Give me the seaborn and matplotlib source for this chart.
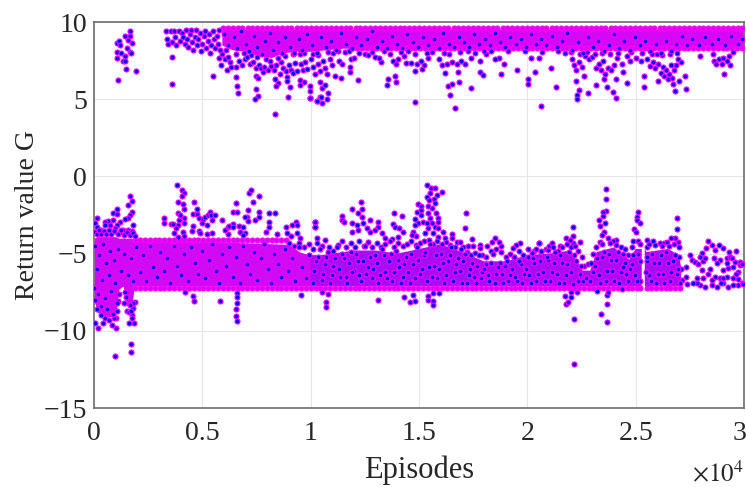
"""
Return value per training episode, scatter of two reward clusters
"""
import pandas as pd
import matplotlib.pyplot as plt
from matplotlib.transforms import ScaledTranslation
import seaborn as sns

# tick labels
x_ticks = [0, 5000, 10000, 15000, 20000, 25000, 30000]
x_tick_labels = ["0", "0.5", "1", "1.5", "2", "2.5", "3"]
y_ticks = [-15, -10, -5, 0, 5, 10]
y_tick_labels = ["\u221215", "\u221210", "\u22125", "0", "5", "10"]

NAN = float("nan")

# envelope of the parts of each cluster where the markers overlap completely
upper_band_x = [5900, 6400, 7000, 7600, 8200, 8700, 9300, 10000, 10700, 11500, 12500, 14000, 16000, 18000, 20000, 22000, 24000, 26000, 27500, 30000]
upper_band_low = [8.5, 8.2, 8.1, 7.8, 7.7, 8.0, 8.1, 8.1, 8.2, 8.3, 8.3, 8.3, 8.3, 8.4, 8.4, 8.4, 8.3, 8.2, 8.4, 8.4]
upper_band_high = [9.55, 9.55, 9.55, 9.55, 9.55, 9.55, 9.55, 9.55, 9.55, 9.55, 9.55, 9.55, 9.55, 9.55, 9.55, 9.55, 9.55, 9.55, 9.55, 9.55]

lower_band_x = [0, 150, 500, 1000, 1150, 1350, 1450, 1750, 1850, 5000, 9000, 9500, 10000, 10500, 11000, 12000, 13000, 14000, 15000, 16000, 17000, 18000, 19000, 20000, 21000, 22000, 22550, 22900, 23200, 24000, 24700, 25000, 25280, 25350, 25420, 25500, 26500, 27000, 27100]
lower_band_low = [-8.0, -8.8, -9.1, -9.1, -7.3, -7.1, -8.3, -8.6, -7.1, -7.1, -7.1, -7.1, -7.1, -7.1, -7.1, -7.1, -7.1, -7.1, -7.1, -7.1, -7.1, -7.1, -7.1, -7.1, -7.1, -7.3, -7.1, -7.1, -7.1, -7.1, -7.1, -7.1, -7.1, NAN, -7.1, -7.1, -7.1, -7.1, -7.1]
lower_band_high = [-4.0, -3.9, -3.9, -3.9, -4.0, -4.0, -4.0, -4.0, -4.2, -4.2, -4.4, -4.9, -5.1, -5.1, -5.0, -4.8, -4.8, -5.0, -4.7, -4.4, -4.9, -5.5, -5.5, -5.1, -5.0, -4.8, -6.1, -6.1, -4.9, -4.6, -5.4, -4.7, -4.7, NAN, -4.7, -4.9, -4.7, -5.1, -5.9]

# markers sit on the saturated edges of the clusters
upper_top_level = 9.58
upper_floor_level = 8.33
lower_ceiling_level = -4.12
lower_floor_level = -7.22
upper_top_x = [
    5950, 6180, 6400, 6640, 6850, 7090, 7300, 7540, 7760, 7990, 8210, 8440, 8660, 8900, 9110, 9350, 9560, 9800, 10020, 10260,
    10470, 10710, 10930, 11160, 11380, 11620, 11830, 12070, 12290, 12520, 12740, 12980, 13190, 13430, 13640, 13880, 14100, 14330, 14550, 14790,
    15000, 15240, 15450, 15690, 15910, 16140, 16360, 16600, 16810, 17050, 17260, 17500, 17720, 17950, 18170, 18410, 18620, 18860, 19070, 19310,
    19530, 19760, 19980, 20220, 20430, 20670, 20880, 21120, 21340, 21570, 21790, 22030, 22240, 22480, 22690, 22930, 23150, 23380, 23600, 23840,
    24050, 24290, 24500, 24740, 24960, 25190, 25410, 25650, 25860, 26100, 26310, 26550, 26770, 27000, 27220, 27460, 27670, 27910, 28120, 28360,
    28580, 28810, 29030, 29270, 29480, 29720, 29930,
]
upper_floor_x = [
    11900, 12130, 12360, 12580, 12810, 13030, 13260, 13480, 13710, 13930, 14160, 14380, 14610, 14830, 15060, 15280, 15510, 15730, 15960, 16180,
    16410, 16630, 16860, 17080, 17310, 17530, 17760, 17980, 18210, 18430, 18660, 18880, 19110, 19330, 19560, 19780, 20010, 20230, 20460, 20680,
    20910, 21130, 21360, 21580, 21810, 22030, 22260, 22480, 22710, 22930, 23160, 23380, 23610, 23830, 24060, 24280, 24510, 24730, 24960, 25180,
    25410, 25630, 25860, 26080, 26310, 26530, 26760, 26980, 27210, 27430, 27660, 27880, 28110, 28330, 28560, 28780, 29010, 29230, 29460, 29680,
    29910,
]
lower_ceiling_x = [
    1900, 2120, 2350, 2570, 2800, 3020, 3250, 3470, 3700, 3920, 4150, 4370, 4600, 4820, 5050, 5270, 5500, 5720, 5950, 6170,
    6400, 6620, 6850, 7070, 7300, 7520, 7750, 7970, 8200, 8420, 8650, 8870,
]
lower_floor_x = [
    1900, 2130, 2350, 2580, 2800, 3030, 3250, 3480, 3700, 3930, 4150, 4380, 4600, 4830, 5050, 5280, 5500, 5730, 5950, 6180,
    6400, 6630, 6850, 7080, 7300, 7530, 7750, 7980, 8200, 8430, 8650, 8880, 9100, 9330, 9550, 9780, 10000, 10230, 10450, 10680,
    10900, 11130, 11350, 11580, 11800, 12030, 12250, 12480, 12700, 12930, 13150, 13380, 13600, 13830, 14050, 14280, 14500, 14730, 14950, 15180,
    15400, 15630, 15850, 16080, 16300, 16530, 16750, 16980, 17200, 17430, 17650, 17880, 18100, 18330, 18550, 18780, 19000, 19230, 19450, 19680,
    19900, 20130, 20350, 20580, 20800, 21030, 21250, 21480, 21700, 21930, 22150, 22380, 22600, 22830, 23050, 23280, 23500, 23730, 23950, 24180,
    24400, 24630, 24850, 25080, 25220, 25500, 25700, 25930, 26150, 26380, 26600, 26830, 27050,
]

upper_outliers = [
    (1123, 6.24), (1461, 6.98), (1922, 6.83), (1046, 8.62), (1169, 8.79), (1200, 8.51), (1430, 9.09), (1661, 9.42),
    (1661, 9.09), (1584, 8.83), (1738, 8.62), (1507, 8.29), (1661, 8.08), (1046, 8.08), (1230, 8.01), (1046, 7.65),
    (1323, 7.47), (1446, 7.47), (1446, 7.80), (1692, 8.01), (3614, 5.98), (3614, 7.73), (5767, 7.69), (5860, 7.19),
    (5506, 6.52), (6121, 6.89), (6306, 7.10), (6537, 7.06), (6537, 6.46), (6583, 5.88), (6629, 5.38), (7459, 5.66),
    (7582, 5.23), (7428, 5.03), (8351, 4.02), (7459, 6.52), (7582, 6.39), (7459, 7.04), (7813, 6.78), (8351, 6.30),
    (8474, 6.03), (8397, 5.85), (9028, 5.79), (8951, 5.12), (8890, 6.46), (8890, 6.20), (9505, 5.92), (9505, 6.24),
    (9690, 6.13), (9966, 5.85), (9966, 5.53), (9966, 5.05), (10274, 4.90), (10428, 5.16), (10277, 4.88), (10507, 4.73),
    (10769, 4.99), (10477, 5.16), (10815, 5.38), (9969, 5.05), (10507, 5.74), (10661, 5.92), (10430, 6.13), (11122, 6.50),
    (11384, 6.35), (11830, 7.10), (11830, 6.78), (12168, 6.24), (13245, 7.43), (12507, 7.90), (13553, 6.29), (13522, 5.92),
    (13952, 6.13), (13891, 6.52), (14829, 4.80), (14829, 6.80), (15120, 6.95), (16429, 5.27), (16659, 4.43), (16321, 5.85),
    (16506, 5.98), (16859, 6.13), (17413, 5.72), (16198, 6.67), (16782, 6.78), (17813, 6.74), (17936, 6.57), (18767, 6.63),
    (19505, 6.89), (20012, 6.29), (20043, 6.00), (20366, 6.78), (20181, 7.67), (20520, 7.64), (20674, 8.03), (20612, 4.56),
    (18905, 7.27), (18674, 7.69), (21307, 5.81), (21091, 7.00), (22245, 6.18), (22399, 5.59), (22306, 5.27), (22306, 4.99),
    (22799, 5.42), (22614, 6.50), (23168, 5.92), (23675, 5.77), (23937, 5.49), (24106, 5.08), (23552, 6.29), (24090, 6.31),
    (24583, 6.03), (24429, 6.76), (25398, 6.48), (25382, 5.81), (26044, 6.20), (26705, 5.98), (26797, 5.55), (27305, 5.64),
    (27289, 6.52), (26997, 6.20), (29073, 6.61), (27951, 7.82),
    # thinner stretch before the band starts
    (3300, 9.4), (3380, 8.9), (3420, 8.6), (3540, 9.4), (3600, 8.7), (3680, 9.4), (3750, 9.0), (3800, 8.5),
    (3900, 9.4), (3960, 8.8), (4050, 9.3), (4110, 9.0), (4180, 8.6), (4240, 9.5), (4300, 8.9), (4360, 8.4),
    (4420, 9.2), (4480, 9.5), (4540, 8.7), (4590, 8.2), (4650, 9.0), (4710, 9.5), (4760, 8.5), (4820, 8.9),
    (4880, 9.3), (4930, 8.1), (5000, 8.6), (5060, 9.1), (5120, 9.4), (5180, 8.3), (5240, 8.8), (5300, 9.2),
    (5360, 8.0), (5420, 8.5), (5480, 9.4), (5540, 8.9), (5600, 8.3), (5660, 9.1), (5720, 8.6), (5780, 9.5),
    (5820, 8.2), (5900, 7.95), (6050, 7.6), (6180, 7.75), (6260, 7.4),
    # fringe under the band
    (6700, 7.5), (6820, 7.2), (6950, 7.6), (7080, 7.75), (7200, 7.3), (7350, 7.4), (7620, 7.2), (7700, 7.0),
    (7850, 7.1), (8050, 6.9), (8180, 7.15), (8300, 6.9), (8420, 7.2), (8570, 6.6), (8640, 7.4), (8720, 7.0),
    (8840, 6.8), (9000, 7.2), (9100, 6.9), (9190, 6.7), (9270, 7.35), (9390, 6.85), (9560, 7.3), (9630, 6.9),
    (9760, 7.4), (9850, 6.95), (10030, 7.6), (10130, 7.1), (10220, 6.6), (10330, 7.3), (10420, 6.85), (10560, 7.45),
    (10650, 7.0), (10740, 6.6), (10880, 7.6), (10980, 7.2), (11300, 7.5), (11430, 7.3), (11850, 7.6), (12000, 7.7),
    (12650, 7.85), (12950, 7.75), (13150, 7.65), (13800, 7.5), (13950, 7.25), (14050, 7.6), (14300, 7.8), (14420, 7.35),
    (14650, 7.35), (14900, 7.3), (15100, 7.5), (15250, 7.2), (15400, 7.7), (15900, 7.6), (16050, 7.2), (16300, 7.3),
    (16500, 7.4), (16750, 7.3), (16950, 7.5), (17100, 7.3), (17400, 7.65), (17800, 7.45), (18100, 7.9), (18500, 7.6),
    (21750, 8.0), (22050, 7.6), (22150, 7.2), (22250, 6.9), (22380, 7.4), (22500, 7.1), (22650, 7.8), (22850, 7.6),
    (23000, 7.75), (23150, 7.0), (23300, 7.3), (23420, 6.9), (23500, 7.5), (23600, 6.6), (23720, 7.0), (23850, 6.9),
    (23980, 7.2), (24150, 7.7), (24350, 7.3), (24600, 7.8), (24750, 7.5), (25000, 7.7), (25250, 7.45), (25500, 7.6),
    (25650, 7.15), (25800, 7.4), (25900, 7.0), (26050, 7.25), (26150, 6.7), (26250, 7.1), (26300, 6.5), (26400, 6.9),
    (26480, 6.3), (26560, 6.6), (26620, 7.2), (26680, 6.4), (26750, 6.9), (26850, 7.2), (26950, 7.6), (27080, 7.4),
    (28550, 7.95), (28600, 7.5), (28700, 7.3), (28850, 7.6), (28990, 7.3), (29050, 7.65), (29230, 7.45), (29300, 7.8),
    (29340, 7.2), (29480, 8.05),
    # ragged lower edge of the band
    (6100, 8.2), (6550, 7.95), (6900, 8.0), (7250, 7.85), (7500, 7.75), (7950, 7.6), (8100, 7.5), (8500, 7.65),
    (8800, 7.8), (9200, 7.95), (9500, 7.9), (9700, 8.0), (10100, 7.95), (10350, 7.85), (10800, 8.05), (11050, 8.0),
    (11250, 8.1), (11600, 8.05), (11750, 8.1), (12250, 8.0), (12850, 8.05), (13400, 8.1), (13650, 7.95), (14150, 8.05),
    (14500, 8.1), (14800, 7.95), (15350, 8.0), (15600, 8.05), (16150, 8.0), (16400, 7.95), (16900, 8.05), (17250, 8.1),
    (17600, 8.0), (18000, 8.1), (18300, 8.15), (19100, 8.1), (19900, 8.15), (21400, 8.1), (22000, 8.05), (22420, 7.95),
    (22750, 8.05), (23100, 7.95), (23450, 8.0), (23800, 7.9), (24200, 8.0), (24800, 8.05), (25300, 8.0), (25750, 7.9),
    (26000, 7.95), (26200, 7.85), (26600, 7.9), (26900, 8.0),
]

upper_band_points = [
    (6000, 9.2), (6200, 8.5), (6450, 9.0), (6620, 8.3), (6800, 9.4), (7010, 8.6), (7150, 8.1), (7390, 9.1),
    (7540, 8.4), (7760, 7.9), (7900, 8.8), (8120, 9.3), (8260, 8.2), (8500, 8.7), (8680, 8.0), (8810, 9.0),
    (9050, 8.4), (9210, 8.0), (9440, 8.9), (9600, 8.2), (9820, 9.2), (10060, 8.5), (10280, 8.0), (10470, 9.0),
    (10700, 8.4), (10950, 8.8), (11150, 8.2), (11400, 9.3), (11620, 8.6), (11900, 8.3), (12100, 9.0), (12340, 8.5),
    (12600, 8.9), (12830, 9.4), (13060, 8.4), (13300, 8.8), (13510, 8.3), (13740, 9.1), (14000, 8.6), (14220, 8.3),
    (14460, 9.2), (14710, 8.7), (14950, 8.4), (15190, 9.0), (15420, 8.5), (15670, 8.9), (15900, 8.3), (16130, 9.3),
    (16370, 8.6), (16600, 8.4), (16840, 9.0), (17090, 8.7), (17310, 8.4), (17560, 9.2), (17790, 8.6), (18030, 8.9),
    (18260, 8.5), (18510, 9.3), (18740, 8.7), (18990, 8.4), (19220, 9.0), (19460, 8.6), (19700, 8.9), (19930, 8.4),
    (20170, 9.2), (20410, 8.6), (20650, 8.9), (20880, 8.5), (21120, 9.1), (21360, 8.4), (21600, 8.8), (21840, 9.3),
    (22080, 8.2), (22320, 8.7), (22560, 8.0), (22800, 9.0), (23040, 8.4), (23280, 8.8), (23520, 8.1), (23760, 8.5),
    (24000, 9.2), (24240, 8.3), (24480, 8.8), (24720, 8.2), (24960, 9.0), (25200, 8.5), (25440, 8.8), (25680, 8.1),
    (25920, 8.6), (26160, 8.0), (26400, 8.8), (26640, 8.1), (26880, 8.6), (27120, 9.1), (27360, 8.5), (27600, 8.9),
    (27900, 8.5), (28200, 9.0), (28500, 8.6), (28800, 8.9), (29100, 8.5), (29400, 9.1), (29700, 8.6), (29920, 8.9),
]

lower_outliers = [
    (3845, -0.56), (4045, -0.88), (4153, -1.05), (4045, -1.25), (3891, -1.68), (4091, -1.81), (4153, -2.11), (3860, -2.39),
    (3968, -2.50), (4153, -2.67), (3922, -2.82), (4153, -3.04), (3245, -2.72), (3230, -3.04), (3553, -3.08), (3660, -3.08),
    (3891, -3.15), (3784, -3.36), (3691, -3.64), (3860, -3.90), (4091, -3.62), (4153, -3.84), (4614, -1.68), (4768, -2.09),
    (4583, -2.46), (4768, -2.46), (4860, -2.72), (5014, -2.76), (5122, -2.61), (5245, -2.50), (5352, -2.28), (5398, -2.50),
    (5583, -2.50), (5429, -2.82), (5198, -3.15), (4999, -3.04), (4553, -3.21), (4506, -3.51), (4860, -3.51), (4891, -3.69),
    (5198, -3.75), (5429, -3.64), (5906, -2.85), (6060, -3.49), (6198, -3.30), (6198, -3.73), (6398, -3.10), (6229, -3.19),
    (6429, -3.30), (6552, -1.72), (6429, -2.31), (6613, -2.33), (6690, -3.19), (6890, -3.26), (6736, -3.58), (6967, -3.64),
    (6890, -3.80), (7090, -2.18), (7044, -2.61), (6967, -2.61), (7121, -2.87), (7429, -2.82), (7613, -2.61), (7613, -2.28),
    (7352, -1.68), (7628, -1.27), (7167, -1.10), (7259, -0.88), (8074, -2.39), (8367, -2.35), (8059, -2.97), (8090, -3.26),
    (7936, -3.62), (8428, -3.73), (8843, -3.30), (9151, -3.15), (9305, -2.97), (9351, -3.15), (8890, -3.69), (9074, -3.86),
    (9351, -3.69), (9505, -4.01), (10197, -2.97), (10197, -3.26), (10305, -4.01),
    (1661, -1.27), (1738, -1.59), (1584, -1.87), (1738, -2.28), (1661, -2.50), (1553, -2.67), (1430, -2.78), (1046, -2.13),
    (861, -2.39), (1046, -2.43), (861, -2.82), (661, -2.87), (507, -2.93), (154, -2.67), (46, -3.04), (123, -3.26),
    (507, -3.15), (738, -3.15), (1200, -2.97), (1046, -3.15), (1354, -3.47), (1784, -3.15), (969, -3.36), (1584, -3.50),
    (1738, -3.54), (300, -3.47), (620, -3.60), (1180, -3.62),
    (4184, -7.46), (4583, -7.75), (4629, -8.05), (5814, -8.07), (6613, -7.53), (6583, -7.79), (6613, -8.22), (6537, -8.61),
    (6552, -9.02), (6583, -9.34), (9567, -7.66), (1738, -8.98), (1630, -9.47), (1846, -9.47), (1738, -9.19), (1892, -8.16),
    (1784, -8.55), (1430, -7.46), (1000, -9.84), (815, -9.62), (1015, -9.19), (430, -9.47), (46, -9.47), (200, -9.84),
    (969, -11.63), (1708, -11.37), (1708, -10.85),
    (300, -9.0), (500, -9.2), (700, -9.3), (900, -9.2), (1050, -8.7), (1110, -8.1), (1170, -7.6), (1400, -8.2),
    (1500, -8.7), (1600, -8.8), (1700, -8.7), (1800, -8.2), (120, -8.6), (60, -8.0), (20, -7.2),
    (10200, -2.97), (10200, -3.30), (10707, -8.16), (10707, -8.48), (10784, -7.64), (10523, -7.51), (13122, -8.00), (14583, -8.11),
    (14814, -8.07), (14322, -7.79), (14737, -7.66), (15429, -7.75), (15429, -8.00), (15629, -7.53), (15629, -8.05), (15629, -8.33),
    (15921, -7.57), (12322, -1.68), (11922, -2.11), (12353, -2.11), (12199, -2.39), (12353, -2.61), (11461, -2.54), (11461, -2.82),
    (11553, -2.93), (11892, -3.04), (12737, -2.82), (13122, -2.97), (13122, -3.26), (12122, -3.15), (12430, -3.04), (11892, -3.58),
    (12199, -3.47), (12584, -3.36), (12737, -3.58), (12968, -3.47), (13276, -3.69), (13845, -2.35), (14199, -2.56), (13814, -3.10),
    (13891, -3.26), (14091, -3.32), (14245, -3.58), (14045, -3.90), (13430, -4.01), (13737, -4.07), (14737, -3.58), (14660, -3.80),
    (14860, -3.84), (14968, -1.81), (15091, -1.92), (14891, -2.33), (15091, -2.18), (15091, -2.50), (14814, -2.76), (14968, -3.04),
    (15199, -2.93), (14829, -3.15),
    (15352, -0.56), (15537, -0.77), (15737, -0.73), (16060, -1.00), (15506, -1.10), (15814, -1.20), (15352, -1.36), (15475, -1.53),
    (15691, -1.48), (15737, -1.74), (15429, -1.92), (15583, -2.07), (15783, -2.39), (15429, -2.39), (15891, -2.67), (15506, -2.72),
    (15891, -2.93), (15352, -3.04), (15583, -3.04), (15737, -3.26), (15429, -3.36), (15891, -3.36), (16121, -3.58), (15275, -3.69),
    (15660, -3.69), (15891, -3.90), (16198, -4.01), (16506, -3.75), (16506, -4.01),
    (17151, -2.35), (17136, -3.36), (17428, -4.05), (18505, -4.01), (18382, -4.27), (18690, -4.23), (18782, -4.51), (18120, -4.51),
    (20550, -4.29), (19660, -4.33), (19475, -4.44), (19320, -4.66), (16737, -4.23), (16890, -4.27), (17045, -4.55), (17275, -4.51),
    (17505, -4.51), (17813, -4.44), (17813, -4.66), (20010, -4.70), (20320, -4.80), (20860, -4.70), (21000, -4.50),
    (23629, -0.84), (23629, -1.46), (23629, -2.24), (23506, -2.28), (23506, -2.54), (23321, -2.82), (23583, -2.99), (23352, -3.19),
    (23552, -3.58), (23429, -3.80), (25090, -2.28), (25044, -2.61), (25044, -2.82), (25198, -3.04), (24936, -3.41), (25013, -3.58),
    (24890, -4.16), (25121, -4.16), (26889, -2.69), (26889, -3.43), (26813, -3.97), (26629, -4.01), (26967, -4.23), (22122, -3.26),
    (22122, -3.86), (21768, -3.97), (22429, -4.23), (20553, -4.29), (21122, -4.29), (21507, -4.49), (22122, -4.33), (21970, -4.10),
    (24090, -4.10), (23340, -4.25), (23710, -4.00), (23950, -4.20), (24300, -4.60), (24520, -4.70), (25500, -4.10), (25780, -4.20),
    (26100, -4.30), (26300, -4.30), (26450, -4.25),
    (22153, -9.26), (22153, -12.17), (23398, -8.91), (23691, -9.45), (23691, -8.26), (23660, -7.68), (23737, -7.51), (21768, -8.29),
    (21891, -8.11), (21737, -7.75), (22014, -7.83), (22000, -7.51), (23200, -7.45), (24350, -7.30), (22300, -7.50),
    # sparse end of the lower cluster
    (27000, -5.2), (27100, -6.0), (27150, -6.7), (27300, -5.9), (27320, -6.5), (27350, -7.0), (27500, -5.1), (27600, -5.4),
    (28351, -4.16), (28504, -4.44), (28843, -4.44), (29012, -4.66), (28243, -4.62), (28658, -4.77), (29320, -4.87), (29612, -4.81),
    (28043, -4.98), (27966, -5.24), (27735, -5.57), (27889, -5.70), (28089, -5.46), (28628, -5.31), (28889, -5.41), (29197, -5.31),
    (29351, -5.20), (29581, -5.52), (29812, -5.52), (28735, -5.63), (28428, -6.02), (28043, -6.06), (29043, -6.06), (29274, -5.96),
    (29504, -5.89), (29735, -6.17), (29889, -6.93), (29735, -7.03), (29504, -7.03), (29274, -7.14), (29043, -6.93), (28735, -7.14),
    (28504, -7.03), (28197, -7.14), (27966, -7.03), (27812, -6.93), (28089, -6.60), (27812, -6.60), (28658, -6.49), (28504, -6.71),
    (28889, -6.60), (29504, -6.60), (29197, -6.49), (29735, -6.66), (29043, -6.60), (28351, -6.32), (29812, -5.74), (29197, -5.63),
    (29950, -7.00), (29900, -5.70), (28200, -5.30), (29450, -5.30), (28950, -6.90), (27650, -6.90), (29650, -6.30),
    # crown above the band on the left
    (40, -3.6), (130, -3.7), (230, -3.5), (340, -3.75), (440, -3.55), (540, -3.7), (700, -3.5), (800, -3.75),
    (900, -3.55), (1100, -3.7), (1250, -3.5), (1400, -3.8), (1520, -3.6), (1650, -3.8), (1800, -3.65), (1900, -3.85),
    # top of the band from 1e4 on, not saturated any more
    (9000, -4.3), (9250, -4.5), (9450, -4.3), (9700, -4.6), (9900, -4.35), (10100, -4.7), (10300, -4.3), (10500, -4.5),
    (10650, -4.15), (10850, -4.6), (11050, -4.8), (11250, -4.45), (11450, -4.2), (11650, -4.55), (11850, -4.3), (12050, -4.6),
    (12250, -4.2), (12450, -4.5), (12650, -4.25), (12850, -4.55), (13050, -4.3), (13250, -4.6), (13450, -4.4), (13650, -4.2),
    (13850, -4.55), (14050, -4.3), (14250, -4.5), (14450, -4.35), (14650, -4.2), (14850, -4.45), (15050, -4.3), (15250, -4.2),
    (15450, -4.1), (15650, -4.35), (15850, -4.2), (16050, -4.4), (16250, -4.25), (16450, -4.45), (16650, -4.6), (16950, -4.7),
    (17200, -4.9), (17400, -5.1), (17600, -4.95), (17900, -5.1), (18100, -5.2), (18300, -4.8), (18550, -4.7), (18800, -4.9),
    (19000, -5.2), (19200, -5.05), (19400, -5.2), (19600, -4.85), (19800, -5.1), (20200, -4.95), (20400, -4.7), (20650, -4.9),
    (20950, -4.75), (21200, -4.6), (21400, -4.8), (21600, -4.55), (21850, -4.4), (22000, -4.6), (22200, -4.5), (22350, -4.8),
    (22500, -5.2), (22620, -5.8), (22800, -5.7), (22950, -5.6), (23050, -5.0), (23150, -4.6), (23450, -4.4), (23800, -4.3),
    (24100, -4.45), (24400, -5.0), (24650, -5.1), (24850, -4.6), (25220, -4.4), (25500, -4.6), (25620, -4.4), (25900, -4.45),
    (26200, -4.5), (26550, -4.5), (26750, -4.4), (27000, -4.6),
]

lower_band_points = [
    (60, -4.5), (120, -6.0), (180, -7.6), (240, -5.1), (310, -8.4), (360, -6.7), (430, -4.4), (490, -7.9),
    (550, -5.6), (610, -8.6), (680, -6.4), (730, -4.8), (800, -7.4), (860, -8.9), (930, -5.4), (990, -6.9),
    (1060, -8.2), (1130, -4.7), (1250, -6.1), (1390, -5.0), (1480, -7.8), (1560, -6.4), (1640, -8.3), (1720, -5.3),
    (1800, -6.8), (1950, -4.6), (2100, -6.2), (2260, -5.1), (2420, -6.8), (2580, -4.5), (2730, -5.9), (2900, -6.5),
    (3050, -4.9), (3210, -6.1), (3370, -5.3), (3530, -6.9), (3690, -4.5), (3850, -5.8), (4010, -6.4), (4170, -5.0),
    (4330, -6.8), (4490, -4.6), (4650, -5.6), (4810, -6.3), (4970, -4.8), (5130, -6.6), (5290, -5.4), (5450, -4.4),
    (5610, -6.1), (5770, -6.9), (5930, -5.0), (6090, -5.8), (6250, -4.6), (6410, -6.5), (6570, -5.2), (6730, -6.9),
    (6890, -4.5), (7050, -5.7), (7210, -6.3), (7370, -4.9), (7530, -6.7), (7690, -5.3), (7850, -4.4), (8010, -6.0),
    (8170, -6.9), (8330, -5.0), (8490, -5.7), (8650, -6.5), (8810, -4.7), (8970, -6.1), (9130, -5.3), (9290, -6.8),
    (9450, -4.6), (9610, -5.9), (9770, -6.6), (9930, -5.1), (10090, -6.9), (10250, -5.5), (10410, -4.7), (10570, -6.3),
    (10730, -5.2), (10890, -6.9), (11050, -5.8), (11210, -4.6), (11370, -6.5), (11530, -5.3), (11690, -6.9), (11850, -4.9),
    (12010, -6.1), (12170, -5.5), (12330, -6.8), (12490, -4.5), (12650, -5.9), (12810, -6.6), (12970, -5.1), (13130, -6.9),
    (13290, -4.7), (13450, -6.2), (13610, -5.5), (13770, -6.8), (13930, -4.8), (14090, -5.9), (14250, -6.5), (14410, -5.2),
    (14570, -6.9), (14730, -5.7), (14890, -4.6), (15050, -6.3), (15210, -5.1), (15370, -6.8), (15530, -4.4), (15690, -5.8),
    (15850, -6.6), (16010, -5.0), (16170, -6.9), (16330, -5.5), (16490, -4.6), (16650, -6.2), (16810, -5.3), (16970, -6.9),
    (17130, -5.0), (17290, -6.4), (17450, -5.6), (17610, -6.9), (17770, -5.1), (17930, -6.2), (18090, -5.7), (18250, -6.8),
    (18410, -5.0), (18570, -6.3), (18730, -5.6), (18890, -6.9), (19050, -5.5), (19210, -6.4), (19370, -5.2), (19530, -6.8),
    (19690, -5.7), (19850, -6.3), (20010, -5.2), (20170, -6.9), (20330, -5.6), (20490, -6.3), (20650, -4.8), (20810, -6.8),
    (20970, -5.4), (21130, -6.2), (21290, -4.9), (21450, -6.9), (21610, -5.6), (21770, -6.4), (21930, -4.9), (22090, -7.0),
    (22250, -5.5), (22410, -6.3), (22570, -6.8), (22730, -6.6), (22890, -6.8), (23050, -6.2), (23210, -5.3), (23370, -6.9),
    (23530, -4.9), (23690, -6.1), (23850, -5.4), (24010, -6.8), (24170, -4.9), (24330, -6.2), (24490, -5.6), (24650, -6.8),
    (24810, -5.7), (24970, -6.4), (25130, -5.0), (25210, -6.8), (25500, -5.5), (25610, -6.4), (25770, -5.0), (25930, -6.9),
    (26090, -5.6), (26250, -6.3), (26410, -4.9), (26570, -6.8), (26730, -5.5), (26890, -6.3), (27050, -6.9),
    # second pass over the thinner part, where single markers still show
    (10150, -6.1), (10330, -5.2), (10500, -6.7), (10660, -5.7), (10810, -4.9), (10970, -6.4), (11130, -5.3), (11290, -6.0),
    (11450, -5.0), (11610, -6.5), (11770, -5.6), (11930, -6.2), (12090, -5.0), (12250, -6.4), (12410, -5.5), (12570, -6.3),
    (12730, -5.2), (12890, -6.0), (13050, -5.6), (13210, -6.4), (13370, -5.1), (13530, -6.6), (13690, -5.0), (13850, -6.2),
    (14010, -5.4), (14170, -6.9), (14330, -5.7), (14490, -6.2), (14650, -5.0), (14810, -6.6), (14970, -5.4), (15130, -6.0),
    (15290, -4.9), (15450, -5.9), (15610, -6.5), (15770, -5.1), (15930, -6.0), (16090, -5.6), (16250, -6.4), (16410, -5.1),
    (16570, -6.8), (16730, -5.7), (16890, -6.1), (17050, -5.5), (17210, -6.9), (17370, -6.0), (17530, -6.5), (17690, -5.8),
    (17850, -6.6), (18010, -6.0), (18170, -6.4), (18330, -5.6), (18490, -6.9), (18650, -5.9), (18810, -6.3), (18970, -5.8),
    (19130, -6.8), (19290, -6.0), (19450, -6.5), (19610, -5.5), (19770, -6.9), (19930, -6.0), (20090, -6.4), (20250, -5.3),
    (20410, -6.8), (20570, -5.5), (20730, -6.2), (20890, -5.2), (21050, -6.8), (21210, -5.6), (21370, -6.3), (21530, -5.1),
    (21690, -6.9), (21850, -5.7), (22010, -6.2), (22170, -5.1), (22330, -6.8), (22490, -5.8), (23130, -5.8), (23290, -6.4),
    (23450, -5.2), (23610, -6.8), (23770, -5.0), (23930, -6.1), (24090, -5.4), (24250, -6.9), (24410, -5.9), (24570, -6.3),
    (24730, -6.0), (24890, -5.1), (25050, -6.8), (25180, -5.5), (25470, -6.2), (25530, -5.2), (25690, -6.8), (25850, -5.6),
    (26010, -6.3), (26170, -5.1), (26330, -6.9), (26490, -5.6), (26650, -6.2), (26810, -5.1), (26970, -6.0),
]

edge_points = (
    [(x, upper_top_level) for x in upper_top_x]
    + [(x, upper_floor_level) for x in upper_floor_x]
    + [(x, lower_ceiling_level) for x in lower_ceiling_x]
    + [(x, lower_floor_level) for x in lower_floor_x]
)

sns.set_theme(style="white")
plt.rcParams["font.family"] = ["Liberation Serif", "DejaVu Sans"]
plt.rcParams["mathtext.fontset"] = "stix"

fig = plt.figure(figsize=(7.46, 4.87), dpi=100)
ax = fig.add_axes([94 / 746, 1 - 408 / 487, 650 / 746, 386 / 487])

points = pd.DataFrame(
    upper_outliers + upper_band_points + lower_outliers + lower_band_points,
    columns=["episode", "G"],
)
edges = pd.DataFrame(edge_points, columns=["episode", "G"])

# Solid part of the clusters goes underneath, single markers on top
ax.fill_between(upper_band_x, upper_band_low, upper_band_high, color="#d408f4", lw=0, zorder=2)
split = lower_band_x.index(10000)
ax.fill_between(lower_band_x[: split + 1], lower_band_low[: split + 1], lower_band_high[: split + 1], color="#d00af2", lw=0, zorder=2)
ax.fill_between(lower_band_x[split:], lower_band_low[split:], lower_band_high[split:], color="#a80cf0", lw=0, zorder=2)

# On the edges the blue centres are hidden by the markers drawn later
sns.scatterplot(data=edges, x="episode", y="G", color="#d408f4", edgecolor="#ff00ff", linewidth=0.8, s=13, ax=ax, zorder=3)
sns.scatterplot(data=points, x="episode", y="G", color="#0000ff", edgecolor="#ff00ff", linewidth=0.8, s=13, ax=ax, zorder=4)

ax.set_xlim(0, 30000)
ax.set_ylim(-15, 10)
ax.set_xticks(x_ticks, x_tick_labels)
ax.set_yticks(y_ticks, y_tick_labels)
ax.tick_params(direction="in", length=6, width=0.8, color="#404040", labelcolor="#262626", labelsize=20, pad=5)
ax.tick_params(axis="x", pad=9)
ax.grid(True, color="#e6e6e6", lw=0.8)
ax.set_axisbelow(True)
for spine in ax.spines.values():
    spine.set_color("#6e6e6e")
    spine.set_linewidth(1.2)

# last tick label would run off the right edge otherwise
last_label = ax.get_xticklabels()[-1]
last_label.set_transform(last_label.get_transform() + ScaledTranslation(-4 / 100, 0, fig.dpi_scale_trans))

ax.set_xlabel("Episodes", fontsize=22, color="#262626")
ax.xaxis.set_label_coords(0.5, -0.16, transform=ax.transAxes)
ax.xaxis.label.set_va("center")
ax.set_ylabel("Return value G", fontsize=20, color="#262626")
ax.yaxis.set_label_coords(-0.083, 0.5, transform=ax.transAxes)
ax.text(1.0, -0.17, r"$\times 10^{4}$", transform=ax.transAxes, ha="right", va="center", fontsize=18, color="#262626")

plt.savefig("out.png", dpi=100)
